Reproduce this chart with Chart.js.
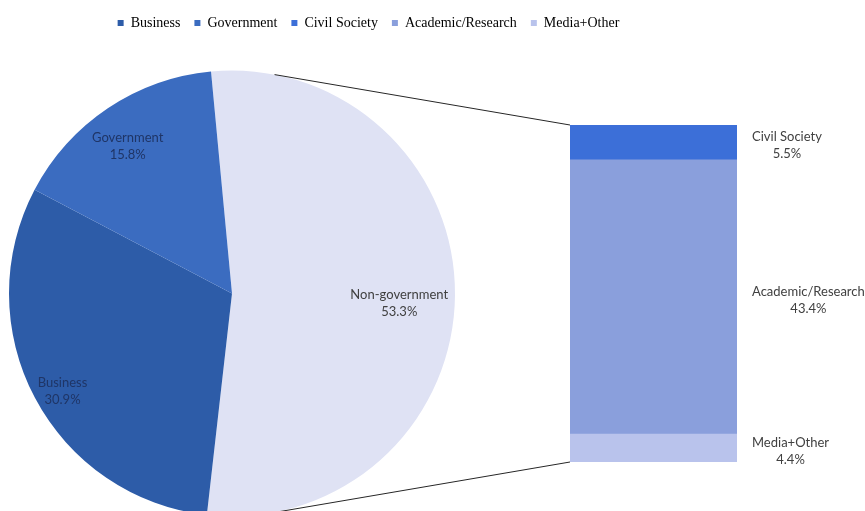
<!DOCTYPE html>
<html>
<head>
<meta charset="utf-8">
<script src="https://cdn.jsdelivr.net/npm/chart.js@4"></script>
<style>
  html, body { margin: 0; padding: 0; background: #fff; }
  #wrap { position: relative; width: 865px; height: 511px; overflow: hidden; }
  #pie-chart { position: absolute; left: 0; top: 0; }
  #bar-chart { position: absolute; left: 570px; top: 115px; }
</style>
</head>
<body>
<div id="wrap">
  <canvas id="bar-chart" width="295" height="357"></canvas>
  <canvas id="pie-chart" width="728" height="547"></canvas>
</div>
<script>
// Stakeholder split: pie for the main groups, stacked bar breaking down Non-government

const pieLabels = ['Non-government', 'Business', 'Government'];
const pieValues = [53.3, 30.9, 15.8];
const pieColors = ['#dfe2f4', '#2d5ca8', '#3b6cc0'];

// bottom to top in the stack
const barLabels = ['Media+Other', 'Academic/Research', 'Civil Society'];
const barValues = [4.4, 43.4, 5.5];
const barColors = ['#b9c3ec', '#8a9fdc', '#3c6fd8'];

const legendLabels = ['Business', 'Government', 'Civil Society', 'Academic/Research', 'Media+Other'];

const labelFont = '13px Lato';

function colorFor(name) {
    let i = pieLabels.indexOf(name);
    if (i >= 0) return pieColors[i];
    i = barLabels.indexOf(name);
    return barColors[i];
}

// Two-line "name / value%" labels, second line centred under the first
function drawTwoLines(ctx, name, value, x, y, alignLeft) {
    const w = ctx.measureText(name).width;
    const left = alignLeft ? x : x - w / 2;
    ctx.textBaseline = 'middle';
    ctx.textAlign = 'left';
    ctx.fillText(name, left, y - 8.5);
    ctx.textAlign = 'center';
    ctx.fillText(value.toFixed(1) + '%', left + w / 2, y + 8.5);
}

const barLabelPlugin = {
    id: 'barLabels',
    afterDatasetsDraw(chart) {
        const ctx = chart.ctx;
        ctx.save();
        ctx.font = labelFont;
        ctx.fillStyle = '#404040';
        chart.data.datasets.forEach((ds, i) => {
            const bar = chart.getDatasetMeta(i).data[0];
            const x = bar.x + bar.width / 2 + 15;
            const y = (bar.y + bar.base) / 2 + 3;
            drawTwoLines(ctx, ds.label, ds.data[0], x, y, true);
        });
        ctx.restore();
    }
};

const barChart = new Chart(document.getElementById('bar-chart'), {
    type: 'bar',
    data: {
        labels: ['Non-government'],
        datasets: barLabels.map((name, i) => ({
            label: name,
            data: [barValues[i]],
            backgroundColor: barColors[i],
            borderWidth: 0,
            barPercentage: 1,
            categoryPercentage: 1
        }))
    },
    options: {
        responsive: false,
        animation: false,
        layout: { padding: { top: 10, bottom: 10, left: 0, right: 128 } },
        plugins: { legend: { display: false }, tooltip: { enabled: false } },
        scales: {
            x: { stacked: true, display: false },
            y: { stacked: true, display: false, min: 0, max: barValues.reduce((a, b) => a + b, 0) }
        }
    },
    plugins: [barLabelPlugin]
});

// radial position of each pie label (fraction of the radius), nudged slightly down
const pieLabelRadius = [0.75, 0.86, 0.84];
const pieLabelDrop = 8;
const pieLabelColors = ['#404040', '#1f3566', '#1f3566'];

const pieLabelPlugin = {
    id: 'pieLabels',
    afterDatasetsDraw(chart) {
        const ctx = chart.ctx;
        const meta = chart.getDatasetMeta(0);
        ctx.save();
        ctx.font = labelFont;
        meta.data.forEach((arc, i) => {
            const p = arc.getProps(['x', 'y', 'startAngle', 'endAngle', 'outerRadius']);
            const mid = (p.startAngle + p.endAngle) / 2;
            const r = p.outerRadius * pieLabelRadius[i];
            ctx.fillStyle = pieLabelColors[i];
            drawTwoLines(ctx, pieLabels[i], pieValues[i],
                p.x + Math.cos(mid) * r, p.y + Math.sin(mid) * r + pieLabelDrop, false);
        });
        ctx.restore();
    }
};

// Lines joining the pie edge to the corners of the breakdown bar
const connectorPlugin = {
    id: 'connectors',
    afterDraw(chart) {
        const arc = chart.getDatasetMeta(0).data[0];
        const p = arc.getProps(['x', 'y', 'outerRadius']);
        const dx = barChart.canvas.offsetLeft - chart.canvas.offsetLeft;
        const dy = barChart.canvas.offsetTop - chart.canvas.offsetTop;
        const top = barChart.getDatasetMeta(barLabels.length - 1).data[0];
        const bottom = barChart.getDatasetMeta(0).data[0];
        const barLeft = top.x - top.width / 2 + dx;
        const ends = [
            [11, top.y + dy],
            [171, bottom.base + dy]
        ];
        const ctx = chart.ctx;
        ctx.save();
        ctx.strokeStyle = '#262626';
        ctx.lineWidth = 1;
        ends.forEach(([deg, by]) => {
            const a = (deg - 90) * Math.PI / 180;
            ctx.beginPath();
            ctx.moveTo(p.x + Math.cos(a) * p.outerRadius, p.y + Math.sin(a) * p.outerRadius);
            ctx.lineTo(barLeft, by);
            ctx.stroke();
        });
        ctx.restore();
    }
};

const pieChart = new Chart(document.getElementById('pie-chart'), {
    type: 'pie',
    data: {
        labels: pieLabels,
        datasets: [{
            data: pieValues,
            backgroundColor: pieColors,
            borderWidth: 0
        }]
    },
    options: {
        responsive: false,
        animation: false,
        rotation: -5.4,
        layout: { padding: { left: 9, top: 2, right: 0, bottom: 0 } },
        plugins: {
            tooltip: { enabled: false },
            legend: {
                position: 'top',
                labels: {
                    boxWidth: 6,
                    boxHeight: 6,
                    padding: 14,
                    color: '#1a1a1a',
                    font: { family: 'Liberation Serif', size: 14 },
                    generateLabels: () => legendLabels.map(name => ({
                        text: name,
                        fillStyle: colorFor(name),
                        strokeStyle: colorFor(name),
                        lineWidth: 0,
                        hidden: false
                    }))
                }
            },
            // empty right-hand title keeps the pie clear of the bar side
            title: {
                display: true,
                position: 'right',
                fullSize: false,
                text: '',
                padding: { top: 0, bottom: 263 },
                font: { size: 10, lineHeight: 1 }
            }
        }
    },
    plugins: [pieLabelPlugin, connectorPlugin]
});
</script>
</body>
</html>
